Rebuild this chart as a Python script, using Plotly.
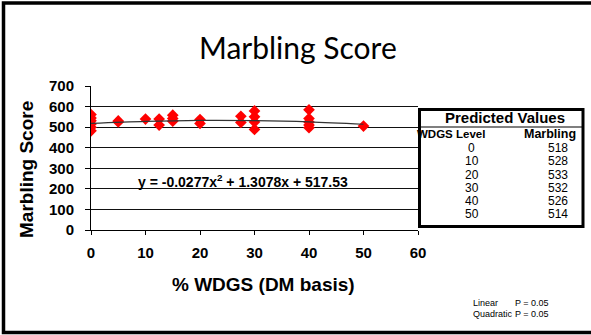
import plotly.graph_objects as go

# ---- data ----
wdgs_x = [0, 0, 0, 0, 0, 0, 5, 5, 10, 12.5, 12.5, 15, 15, 15, 20, 20,
          27.5, 27.5, 30, 30, 30, 30, 40, 40, 40, 40, 40, 50]
marbling_y = [561, 545, 531, 515, 499, 482, 525, 530, 539, 539, 510, 558, 542, 529,
              537, 518, 553, 523, 579, 550, 525, 489, 584, 542, 525, 510, 497, 505]
pred_levels = [0, 10, 20, 30, 40, 50]
pred_marbling = [518, 528, 533, 532, 526, 514]
x_ticks = [0, 10, 20, 30, 40, 50, 60]
y_ticks = [0, 100, 200, 300, 400, 500, 600, 700]

# ---- geometry helpers (pixel -> paper) ----
W, H = 591, 335
L, R, T, B = 91, 173, 86, 105
PW, PH = W - L - R, H - T - B


def xp(px):
    return (px - L) / PW


def yp(py):
    return (H - B - py) / PH


ARIAL = "Liberation Sans, Arial, sans-serif"

fig = go.Figure()
fig.add_trace(go.Scatter(
    x=wdgs_x, y=marbling_y, mode="markers",
    marker=dict(symbol="diamond", size=9, color="#ff0000", line=dict(width=0)),
    showlegend=False, hoverinfo="skip"))
fig.add_trace(go.Scatter(
    x=pred_levels, y=pred_marbling, mode="lines",
    line=dict(color="#333333", width=1.2, shape="spline"),
    showlegend=False, hoverinfo="skip"))

fig.update_layout(
    width=W, height=H,
    margin=dict(l=L, r=R, t=T, b=B),
    paper_bgcolor="white", plot_bgcolor="white",
    font=dict(family=ARIAL, color="black"),
    xaxis=dict(range=[0, 60], tickvals=x_ticks, ticktext=[f"<b>{v}</b>" for v in x_ticks],
               ticks="outside", ticklen=4, ticklabelstandoff=5,
               tickcolor="black", showline=True, linecolor="black", linewidth=1,
               showgrid=False, zeroline=False,
               tickfont=dict(family=ARIAL, size=15, color="black")),
    yaxis=dict(range=[0, 700], tickvals=y_ticks, ticktext=[f"<b>{v}</b>" for v in y_ticks],
               ticks="outside", ticklen=5, ticklabelstandoff=8,
               tickcolor="black", showline=True, linecolor="black", linewidth=1,
               showgrid=True, gridcolor="#111111", gridwidth=1, zeroline=False,
               tickfont=dict(family=ARIAL, size=15, color="black")),
)

shapes = []
# outer frame
shapes.append(dict(type="rect", xref="paper", yref="paper",
                   x0=xp(3.5), x1=xp(600), y0=yp(332.5), y1=yp(3),
                   line=dict(color="black", width=3.5), layer="above"))
# table box
shapes.append(dict(type="rect", xref="paper", yref="paper",
                   x0=xp(419.5), x1=xp(583), y0=yp(226.5), y1=yp(109.5),
                   line=dict(color="black", width=3), fillcolor="white", layer="above"))
shapes.append(dict(type="line", xref="paper", yref="paper",
                   x0=xp(419.5), x1=xp(583), y0=yp(127), y1=yp(127),
                   line=dict(color="black", width=1.2), layer="above"))
fig.update_layout(shapes=shapes)

ann = []


def add_text(text, px, py, size, bold=False, xanchor="center", family=ARIAL, angle=0):
    ann.append(dict(text=f"<b>{text}</b>" if bold else text,
                    xref="paper", yref="paper", x=xp(px), y=yp(py),
                    xanchor=xanchor, yanchor="middle", showarrow=False, textangle=angle,
                    font=dict(family=family, size=size, color="black")))


add_text("Marbling Score", 298, 47, 30, family="Lato, Carlito, sans-serif")
add_text("Marbling Score", 26, 170, 19, bold=True, angle=-90)
add_text("% WDGS (DM basis)", 263, 284, 19, bold=True)
add_text("y = -0.0277x<sup>2</sup> + 1.3078x + 517.53", 243, 181, 14, bold=True)
add_text("Predicted Values", 505, 117, 15, bold=True)
add_text("WDGS Level", 451, 133.5, 11.5, bold=True)
add_text("Marbling", 550, 133.5, 12.5, bold=True)
row_y = [148, 161, 174.5, 187.5, 201, 214]
for lvl, val, ry in zip(pred_levels, pred_marbling, row_y):
    add_text(str(lvl), 472, ry, 12)
    add_text(str(val), 558, ry, 12)
add_text("Linear", 471, 303, 9, xanchor="left")
add_text("P = 0.05", 513, 303, 9, xanchor="left")
add_text("Quadratic", 471, 314, 9, xanchor="left")
add_text("P = 0.05", 513, 314, 9, xanchor="left")
fig.update_layout(annotations=ann)

fig.write_html("out.html")
